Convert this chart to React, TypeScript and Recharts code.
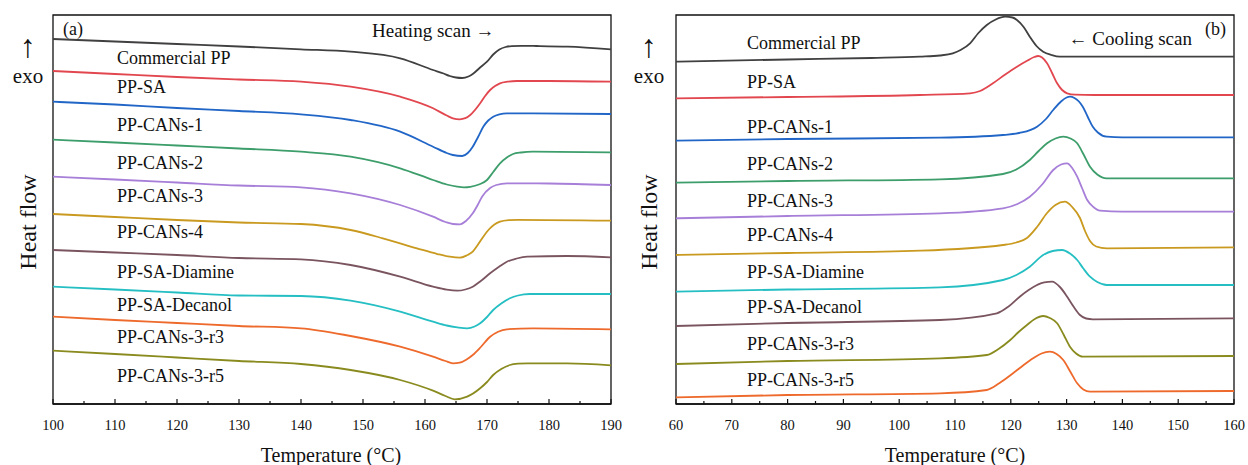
import { LineChart, Line, XAxis, YAxis, ReferenceArea } from 'recharts'

// sample names, top to bottom in both panels
const sampleNames = [
  'Commercial PP',
  'PP-SA',
  'PP-CANs-1',
  'PP-CANs-2',
  'PP-CANs-3',
  'PP-CANs-4',
  'PP-SA-Diamine',
  'PP-SA-Decanol',
  'PP-CANs-3-r3',
  'PP-CANs-3-r5',
]

const heatTicks = [100, 105, 110, 115, 120, 125, 130, 135, 140, 145, 150, 155, 160, 165, 170, 175, 180, 185, 190]
const coolTicks = [60, 65, 70, 75, 80, 85, 90, 95, 100, 105, 110, 115, 120, 125, 130, 135, 140, 145, 150, 155, 160]

// (a) heating scan: [temperature, heat flow (stacked offset, a.u.)]
const heatCommercial = [[100, 365], [110, 362.5], [120, 360], [130, 357.5], [140, 354.7], [148, 352.3], [156, 345.7], [161.3, 334], [163, 330.5], [164, 328], [165, 326.5], [166, 326], [167, 327.5], [167.7, 330], [168.8, 336], [170, 342.3], [171, 349.5], [172, 354.5], [173, 357], [174, 357.9], [175.5, 358.2], [178, 358], [183, 357.3], [190, 354.7]]
const heatSA = [[100, 333], [110, 330], [120, 327], [130, 324.5], [140, 322.3], [148, 317.3], [156, 307.3], [161.3, 295.7], [163.5, 288.5], [164.5, 285.7], [165.6, 284.7], [166.5, 285.8], [167.3, 289], [168.9, 300.7], [169.7, 308], [170.5, 314], [171.3, 318], [172.1, 320.7], [173.3, 322.3], [174.8, 323], [180, 323], [190, 322.3]]
const heatCANs1 = [[100, 302.3], [110, 299.5], [120, 296], [130, 293], [140, 289.7], [148, 284], [156, 272.3], [161.3, 257.3], [163.5, 251], [164.5, 249], [166, 248], [166.9, 251], [167.7, 257.3], [168.6, 267.5], [169.4, 277.3], [170.2, 283.5], [171, 287.3], [172, 289.7], [173.2, 290.7], [177.4, 290.7], [190, 290]]
const heatCANs2 = [[100, 264.3], [110, 261.5], [120, 258.5], [130, 255.5], [140, 252.3], [148, 247.3], [156, 235.7], [161.3, 224], [163.5, 219.5], [165.2, 217.3], [166.3, 216.7], [167.3, 217.2], [168.7, 219.5], [170, 224], [171, 232], [172.1, 240.7], [173.2, 246.5], [174.2, 250], [175.5, 251.5], [177.4, 252.3], [190, 251.7]]
const heatCANs3 = [[100, 227.3], [110, 224.5], [120, 221.5], [130, 218.5], [140, 216.7], [148, 210.7], [156, 199], [161.3, 187.3], [163.3, 182], [164.5, 180], [165.6, 179.7], [166.6, 183], [167.7, 190.7], [168.5, 199], [169.2, 207.3], [170.5, 216], [171.5, 219], [173.2, 220.7], [180, 220.5], [190, 219]]
const heatCANs4 = [[100, 190], [110, 187], [120, 184], [130, 181.5], [140, 180], [148, 174], [153.2, 165.7], [158.7, 155.7], [162, 150], [164, 147.3], [165.6, 146.3], [166.7, 148.5], [167.7, 152.3], [168.5, 159], [169.4, 167.3], [170.3, 174.5], [171.2, 179.5], [172.1, 182.3], [173.5, 183.8], [175, 184.2], [190, 183.3]]
const heatDiamine = [[100, 154], [110, 151.5], [120, 149], [130, 146], [140, 144.7], [148, 139], [156, 127.3], [161.3, 117.3], [163.5, 114.3], [165.2, 113.3], [166.5, 114.5], [167.7, 117.3], [169, 123], [170.5, 130.7], [172, 137.5], [173.2, 142.3], [174.8, 145.5], [176.5, 147.3], [182.9, 148], [190, 146.7]]
const heatDecanol = [[100, 117.3], [110, 114.5], [120, 111.5], [130, 108.5], [140, 108], [148, 103.3], [156, 92.3], [161.3, 82.3], [163.5, 78.5], [165.2, 76.7], [166.8, 75.7], [168, 77.5], [168.9, 80.7], [170, 87], [171, 94], [172.3, 100.5], [173.7, 105.7], [175, 108.5], [176.9, 110], [190, 110]]
const heatR3 = [[100, 87.3], [110, 84], [120, 81], [130, 78], [140, 75.7], [148, 68], [156, 57.3], [161.3, 47.3], [163.3, 43], [164.5, 40.7], [165.6, 41.3], [166.7, 44.5], [167.7, 49], [169, 57], [170.5, 67.3], [171.8, 72.3], [173.2, 74.7], [177.4, 75.7], [190, 74.7]]
const heatR5 = [[100, 53.3], [110, 50], [120, 46.5], [130, 43], [140, 40], [148, 34], [156, 24], [161.3, 13.3], [163.3, 8], [164.8, 4.7], [166.8, 7.3], [168.9, 15.7], [170, 22], [171, 29], [172.3, 35], [173.7, 39], [175, 40.3], [176.5, 40.7], [182.9, 40.7], [190, 38.7]]

// (b) cooling scan
const coolCommercial = [[60, 342.3], [80, 344.5], [95, 346], [103.7, 347.3], [107.3, 348.5], [109.6, 350.7], [111, 354], [112.7, 360.7], [114.2, 371], [115.7, 379], [117.3, 384.5], [119, 387.3], [120.3, 386.5], [121.1, 384], [122.3, 377], [123.4, 367.3], [124.6, 358], [125.8, 352.3], [127.3, 349], [128.8, 347.3], [160, 347.3]]
const coolSA = [[60, 305.7], [80, 307], [103.7, 309], [112.7, 310.7], [114.5, 313], [116.8, 320.7], [119, 329.5], [121.1, 337.3], [123, 343.5], [124.2, 347], [124.9, 348], [125.6, 346.5], [126.5, 340.7], [127.4, 331], [128.3, 320.7], [129.2, 314], [130.1, 310.7], [131.5, 309.3], [135, 309], [160, 309]]
const coolCANs1 = [[60, 263.3], [80, 265], [107.3, 266.3], [118.6, 269], [121.5, 271], [124.7, 277.3], [126.3, 285], [127.6, 294], [129, 302.5], [130, 306.5], [130.6, 307.3], [131.4, 306], [132.9, 297.3], [133.8, 287], [134.7, 277.3], [135.6, 271.5], [137.2, 267.3], [140, 266.7], [160, 266.7]]
const coolCANs2 = [[60, 221.3], [80, 223], [107.3, 224.7], [118.6, 230], [121, 234.5], [123.4, 244], [125, 253], [126.5, 260.7], [128, 265.5], [129.4, 267.3], [130.7, 265.5], [131.9, 260.7], [133, 250], [134.2, 237.3], [135.5, 229.5], [137.2, 225.7], [160, 225.7]]
const coolCANs3 = [[60, 185.7], [80, 188], [107.3, 190.7], [118.6, 195.7], [121.2, 200], [123.4, 207.3], [125.7, 220], [127.6, 234], [129, 239.5], [130.1, 240.7], [131, 236], [131.9, 227.3], [132.8, 215.5], [133.7, 204], [134.8, 197], [136, 193.3], [140, 192.3], [160, 192.3]]
const coolCANs4 = [[60, 149], [80, 151], [103.7, 153.3], [118.6, 159], [121, 161.5], [122.9, 166], [124.7, 177], [126.5, 191], [128, 199], [129.7, 202.3], [131, 197], [132.4, 186], [133.3, 173], [134.2, 163], [135.3, 157.5], [137.2, 155.7], [160, 156.7]]
const coolDiamine = [[60, 112.3], [80, 114.5], [107.3, 116.7], [118.6, 124], [121, 129], [123.4, 137.3], [125.8, 149], [127.5, 153], [129.2, 154], [130.6, 150.5], [131.9, 144], [133, 135.5], [134.2, 127.3], [135.5, 122], [137.2, 119], [160, 119]]
const coolDecanol = [[60, 78], [80, 81], [107.3, 84], [117.5, 90.7], [119.6, 97.5], [121.6, 107.3], [123.2, 114], [124.7, 119], [126, 121.7], [127.4, 122.3], [128.8, 117], [130.1, 107.3], [131.3, 97], [132.4, 89], [133.5, 85.5], [134.7, 84.7], [160, 85.7]]
const coolR3 = [[60, 40], [80, 43], [107.3, 45.7], [115.7, 49], [117.8, 55], [119.9, 64], [121.4, 72], [122.9, 79], [124.3, 85], [125.8, 88], [127, 86], [128.3, 80.7], [129.5, 69], [130.6, 57.3], [131.7, 50.5], [132.9, 47.3], [160, 48]]
const coolR5 = [[60, 6.7], [80, 9], [107.3, 10.7], [115.7, 14], [118, 21], [120.4, 30.7], [122.2, 38.5], [124, 45.7], [125.5, 50.5], [127, 52.3], [128.2, 50], [129.4, 44], [130.7, 32], [131.9, 20.7], [133, 14.5], [134.2, 12.3], [160, 13]]

const heatData = [heatCommercial, heatSA, heatCANs1, heatCANs2, heatCANs3, heatCANs4, heatDiamine, heatDecanol, heatR3, heatR5]
const coolData = [coolCommercial, coolSA, coolCANs1, coolCANs2, coolCANs3, coolCANs4, coolDiamine, coolDecanol, coolR3, coolR5]

const heatColors = ['#404040', '#e2474f', '#2166c7', '#3d9e6b', '#a77fd8', '#c99a1f', '#7a5560', '#25bfc3', '#ee6a2c', '#8a8b1f']
const coolColors = ['#404040', '#e2474f', '#2166c7', '#3d9e6b', '#a77fd8', '#c99a1f', '#25bfc3', '#7a5560', '#8a8b1f', '#ee6a2c']

// label layout (center y, px)
const heatLabelY = [58, 87, 125, 163, 196, 232, 272, 305, 337, 376]
const coolLabelY = [43, 82, 127, 164, 201, 235, 272, 307, 344, 380]

const FONT = '"Liberation Serif", "Times New Roman", serif'
const INK = '#111'

function renderTick(props: any) {
  const { x, y, payload } = props
  const major = payload.value % 10 === 0
  return (
    <g>
      <line x1={x} x2={x} y1={y} y2={y - (major ? 5 : 3)} stroke={INK} strokeWidth={1.2} />
      {major && (
        <text x={x} y={y + 26} textAnchor="middle" style={{ fontFamily: FONT, fontSize: 14.5, fill: INK }}>
          {payload.value}
        </text>
      )}
    </g>
  )
}

function Panel({ data, colors, domain, ticks, width, margin }: any) {
  return (
    <LineChart width={width} height={465} margin={margin}>
      <XAxis
        type="number"
        dataKey="t"
        domain={domain}
        ticks={ticks}
        interval={0}
        allowDataOverflow
        height={50}
        tickSize={0}
        tickMargin={0}
        tickLine={false}
        axisLine={{ stroke: INK, strokeWidth: 1.3 }}
        tick={renderTick}
      />
      <YAxis type="number" dataKey="h" domain={[0, 389]} allowDataOverflow hide />
      <ReferenceArea x1={domain[0]} x2={domain[1]} y1={0} y2={389} fill="none" fillOpacity={0} stroke={INK} strokeWidth={1.3} />
      {data.map((pts: number[][], i: number) => (
        <Line
          key={sampleNames[i]}
          name={sampleNames[i]}
          data={pts.map(([t, h]) => ({ t, h }))}
          dataKey="h"
          type="monotone"
          stroke={colors[i]}
          strokeWidth={1.8}
          dot={false}
          activeDot={false}
          isAnimationActive={false}
        />
      ))}
    </LineChart>
  )
}

export default function App() {
  return (
    <div style={{ position: 'fixed', left: 0, top: 0, width: 1248, height: 465, background: '#fff' }}>
      <style>{'.recharts-surface { overflow: visible; }'}</style>
      <div style={{ position: 'absolute', left: 0, top: 0 }}>
        <Panel data={heatData} colors={heatColors} domain={[100, 190]} ticks={heatTicks} width={620} margin={{ top: 15, right: 9, bottom: 11, left: 53 }} />
      </div>
      <div style={{ position: 'absolute', left: 624, top: 0 }}>
        <Panel data={coolData} colors={coolColors} domain={[60, 160]} ticks={coolTicks} width={624} margin={{ top: 15, right: 14, bottom: 11, left: 52 }} />
      </div>
      <svg width={1248} height={465} style={{ position: 'absolute', left: 0, top: 0, pointerEvents: 'none' }} fontFamily={FONT} fill={INK}>
        {/* panel (a) */}
        <text x={63} y={29} fontSize={18} dominantBaseline="central">(a)</text>
        <text x={372} y={30} fontSize={19} dominantBaseline="central">Heating scan →</text>
        <text x={28} y={46} fontSize={32} textAnchor="middle" dominantBaseline="central">↑</text>
        <text x={28} y={76} fontSize={21} textAnchor="middle" dominantBaseline="central">exo</text>
        <text x={28} y={222} fontSize={24} textAnchor="middle" dominantBaseline="central" transform="rotate(-90 28 222)">Heat flow</text>
        <text x={331} y={455} fontSize={20} textAnchor="middle" dominantBaseline="central">Temperature (°C)</text>
        {sampleNames.map((n, i) => (
          <text key={'a' + n} x={117} y={heatLabelY[i]} fontSize={18} dominantBaseline="central">{n}</text>
        ))}
        {/* panel (b) */}
        <text x={1205} y={29} fontSize={18} dominantBaseline="central">(b)</text>
        <text x={1192} y={38} fontSize={19} textAnchor="end" dominantBaseline="central">← Cooling scan</text>
        <text x={649} y={46} fontSize={32} textAnchor="middle" dominantBaseline="central">↑</text>
        <text x={649} y={76} fontSize={21} textAnchor="middle" dominantBaseline="central">exo</text>
        <text x={649} y={222} fontSize={24} textAnchor="middle" dominantBaseline="central" transform="rotate(-90 649 222)">Heat flow</text>
        <text x={955} y={455} fontSize={20} textAnchor="middle" dominantBaseline="central">Temperature (°C)</text>
        {sampleNames.map((n, i) => (
          <text key={'b' + n} x={747} y={coolLabelY[i]} fontSize={18} dominantBaseline="central">{n}</text>
        ))}
      </svg>
    </div>
  )
}
